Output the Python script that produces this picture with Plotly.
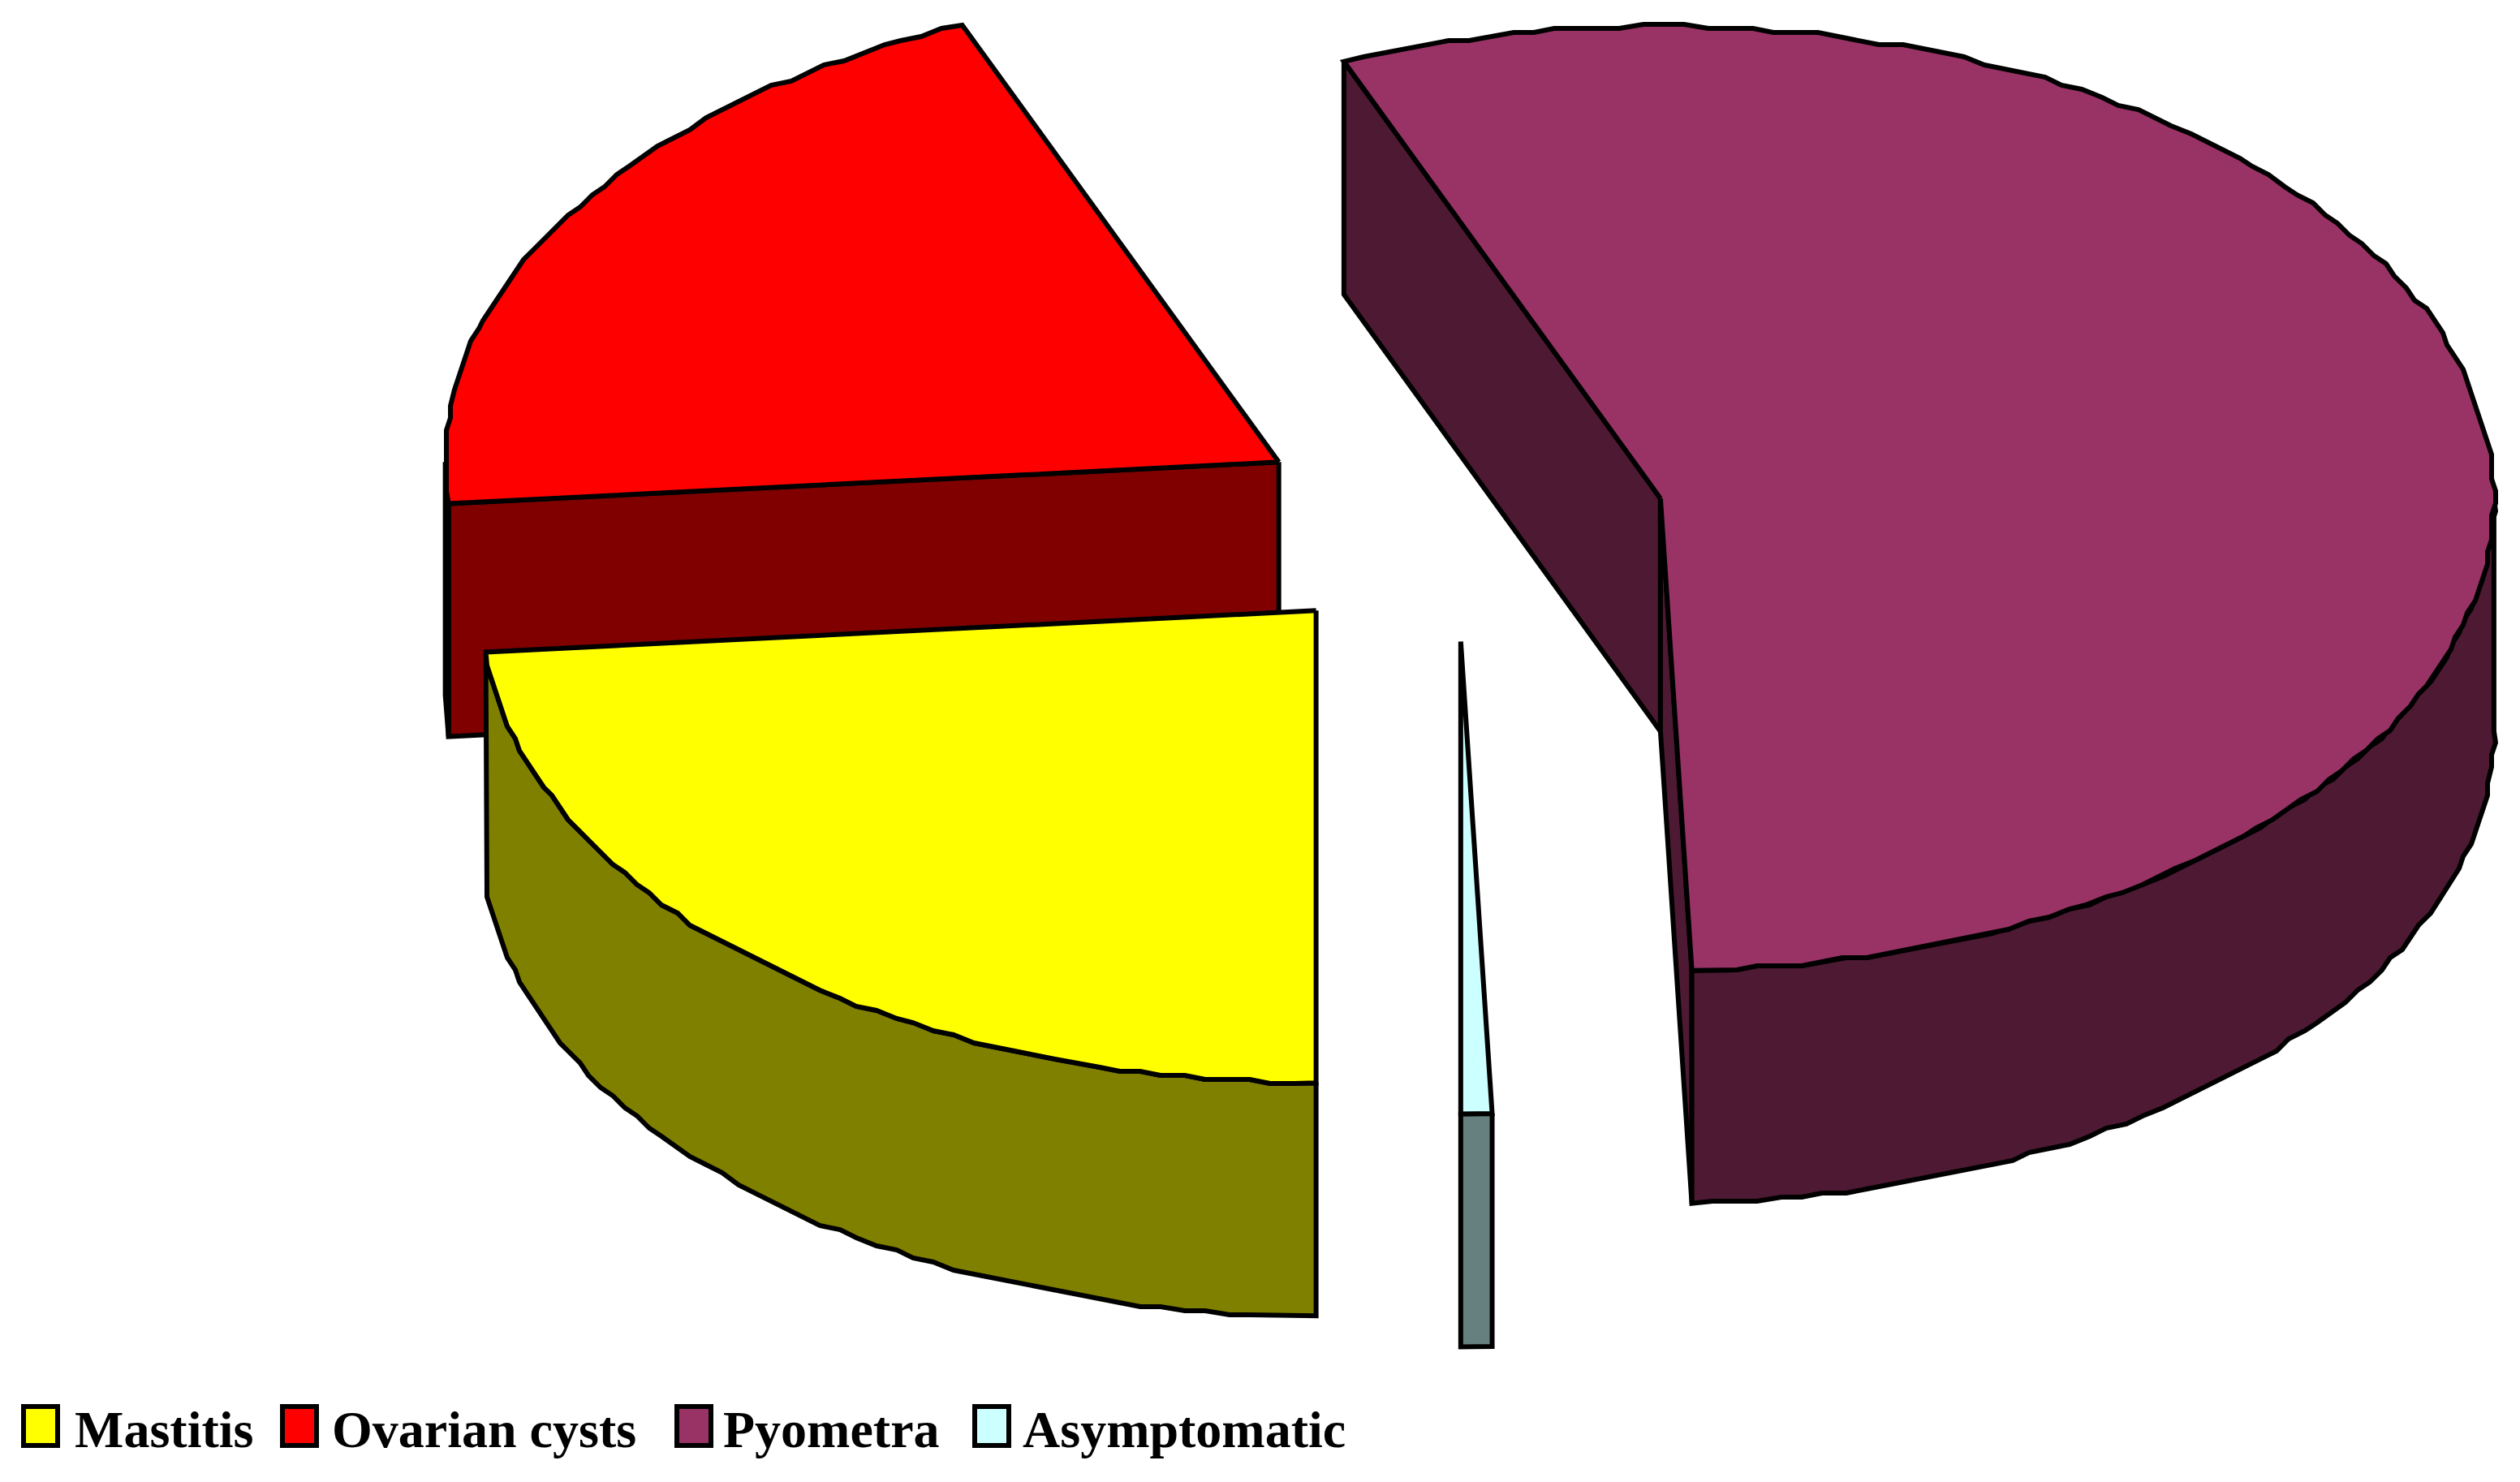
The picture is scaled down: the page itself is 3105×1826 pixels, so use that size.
import numpy as np
import plotly.graph_objects as go

# Data
categories = ["Mastitis", "Ovarian cysts", "Pyometra", "Asymptomatic"]
values = [23.6, 20.2, 55.6, 0.6]

# Style
top_colors = ["#FFFF00", "#FF0000", "#993366", "#CCFFFF"]
side_colors = ["#808000", "#800000", "#4D1933", "#668080"]
draw_order = [1, 0, 3, 2]
start_angle = 180.0
explode = 0.25
CX, CY, RX, RY, DEPTH = 1795.0, 645.0, 1027.0, 582.0, 287.0
LW = 6
GRID = 5.0  # outline stepping of the original rasterised drawing
W, H = 3105, 1826
key_x = [29, 348, 834, 1201]
text_x = [91, 408, 890, 1259]
KEY_W, KEY_Y0, KEY_Y1, TEXT_BASE, FONT = 42, 1733, 1781, 1782, 64


def arc(a0, a1, ox, oy, dz=0.0):
    n = max(2, int(abs(a1 - a0) / 1.5) + 1)
    t = np.radians(np.linspace(a0, a1, n))
    x = ox + RX * np.sin(t)
    y = oy - RY * np.cos(t) + dz
    x[1:-1] = np.round(x[1:-1] / GRID) * GRID
    y[1:-1] = np.round(y[1:-1] / GRID) * GRID
    return x, y


def poly(fig, x, y, color, name):
    fig.add_trace(go.Scatter(
        x=np.r_[x, x[0]], y=np.r_[y, y[0]], mode="lines", fill="toself",
        fillcolor=color, line=dict(color="black", width=LW), name=name,
        hoverinfo="name", showlegend=False))


total = sum(values)
spans = []
a = start_angle
for v in values:
    spans.append((a, a + v / total * 360.0))
    a = spans[-1][1]

fig = go.Figure()
for i in draw_order:
    a0, a1 = spans[i]
    mid = np.radians((a0 + a1) / 2)
    ox = CX + explode * RX * np.sin(mid)
    oy = CY - explode * RY * np.cos(mid)
    name, top, side = categories[i], top_colors[i], side_colors[i]

    # radial faces
    for ang, normal in ((a0, a0 - 90), (a1, a1 + 90)):
        if -np.cos(np.radians(normal)) > 1e-6:
            ex = ox + RX * np.sin(np.radians(ang))
            ey = oy - RY * np.cos(np.radians(ang))
            poly(fig, np.array([ox, ex, ex, ox]),
                 np.array([oy, ey, ey + DEPTH, oy + DEPTH]), side, name)

    # outer wall: only where the rim faces the viewer (90-270 deg, modulo a turn)
    for shift in (0, 360):
        w0, w1 = max(a0, 90 + shift), min(a1, 270 + shift)
        if w1 > w0:
            xt, yt = arc(w0, w1, ox, oy)
            xb, yb = arc(w0, w1, ox, oy, DEPTH)
            poly(fig, np.r_[xt, xb[::-1]], np.r_[yt, yb[::-1]], side, name)

    # top face
    xt, yt = arc(a0, a1, ox, oy)
    poly(fig, np.r_[ox, xt], np.r_[oy, yt], top, name)

# Legend
for i, name in enumerate(categories):
    x0, x1 = key_x[i], key_x[i] + KEY_W
    fig.add_shape(type="rect", x0=x0, x1=x1, y0=KEY_Y0, y1=KEY_Y1,
                  fillcolor=top_colors[i], line=dict(color="black", width=LW),
                  xref="x", yref="y")
    fig.add_annotation(x=text_x[i], y=TEXT_BASE + 16, text=f"<b>{name}</b>",
                       xanchor="left", yanchor="bottom", showarrow=False,
                       borderpad=0,
                       font=dict(family="Liberation Serif", size=FONT, color="black"))

fig.update_layout(
    width=W, height=H, autosize=False, showlegend=False,
    margin=dict(l=0, r=0, t=0, b=0),
    paper_bgcolor="white", plot_bgcolor="white",
    xaxis=dict(range=[0, W], visible=False, fixedrange=True),
    yaxis=dict(range=[H, 0], visible=False, fixedrange=True),
)
fig.write_html("out.html", post_script="document.body.style.margin='0';document.body.style.overflow='hidden';",
               config={"displayModeBar": False})
